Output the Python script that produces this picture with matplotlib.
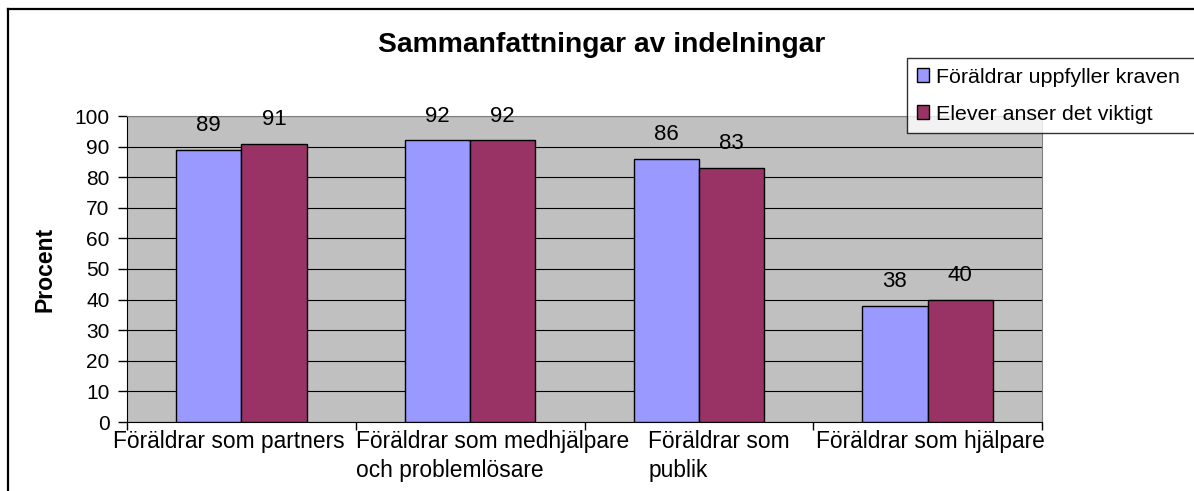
import matplotlib.pyplot as plt
import numpy as np
from matplotlib.lines import Line2D
from matplotlib.transforms import ScaledTranslation

categories = ['Föräldrar som partners', 'Föräldrar som medhjälpare\noch problemlösare',
              'Föräldrar som\npublik', 'Föräldrar som hjälpare']
series_names = ['Föräldrar uppfyller kraven', 'Elever anser det viktigt']
foraldrar = [89, 92, 86, 38]
elever = [91, 92, 83, 40]
yticks = list(range(0, 101, 10))

plt.rcParams['font.family'] = ['Liberation Sans', 'DejaVu Sans']

W, H = 1194, 491
fig = plt.figure(figsize=(W / 100, H / 100), dpi=100)
fig.patch.set_facecolor('white')

# outer chart frame: only left and top edges are inside the picture
fig.lines.append(Line2D([8 / W, 8 / W], [0, 1 - 9 / H], transform=fig.transFigure,
                        color='black', linewidth=1.6))
fig.lines.append(Line2D([8 / W, 1], [1 - 9 / H, 1 - 9 / H], transform=fig.transFigure,
                        color='black', linewidth=1.6))

ax = fig.add_axes([127 / W, 1 - 422 / H, (1042 - 127) / W, (422 - 116) / H])
ax.set_facecolor('#C0C0C0')

x = np.arange(len(categories))
bw = 1 / 3.5
colors = ['#9999FF', '#993366']
bars1 = ax.bar(x - bw / 2, foraldrar, bw, color=colors[0], edgecolor='black',
               linewidth=1, label=series_names[0], zorder=3)
bars2 = ax.bar(x + bw / 2, elever, bw, color=colors[1], edgecolor='black',
               linewidth=1, label=series_names[1], zorder=3)

for bars, vals in ((bars1, foraldrar), (bars2, elever)):
    for b, v in zip(bars, vals):
        ax.annotate(str(v), (b.get_x() + b.get_width() / 2, v),
                    xytext=(0, 10), textcoords='offset points',
                    ha='center', va='bottom', fontsize=16)

ax.set_xlim(-0.5, len(categories) - 0.5)
ax.set_ylim(0, 100)
ax.set_yticks(yticks)
ax.tick_params(axis='y', labelsize=15, length=6.5, width=1, direction='out', pad=6)
ax.yaxis.grid(True, color='black', linewidth=0.8, zorder=1)
ax.set_axisbelow(True)

ax.set_xticks(x)
ax.set_xticklabels(categories, fontsize=16.4, multialignment='left', linespacing=1.3)
ax.tick_params(axis='x', length=0, pad=6)
ax.set_xticks(np.arange(-0.5, len(categories), 1), minor=True)
ax.tick_params(axis='x', which='minor', length=6, width=1, direction='out')
shifts = [-13, 23, 20, 3]
for lab, dx in zip(ax.get_xticklabels(), shifts):
    lab.set_transform(lab.get_transform() + ScaledTranslation(dx / 100, 0, fig.dpi_scale_trans))

ax.spines['left'].set_color('black')
ax.spines['bottom'].set_color('black')
ax.spines['top'].set_color('#808080')
ax.spines['right'].set_color('#808080')

ax.set_ylabel('Procent', fontsize=16.6, fontweight='bold', labelpad=13)

fig.text(602 / W, 1 - 45 / H, 'Sammanfattningar av indelningar', ha='center',
         va='center', fontsize=20.3, fontweight='bold')

leg = fig.legend(loc='upper left', bbox_to_anchor=(907 / W, 1 - 132 / H, 1.02 - 907 / W, 74 / H),
                 mode='expand', fontsize=15.4, frameon=True, fancybox=False, edgecolor='black',
                 handlelength=0.6, handleheight=0.6, handletextpad=0.3,
                 labelspacing=0.85, borderpad=0.45, borderaxespad=0)
leg.get_frame().set_linewidth(1)

fig.savefig('out.png', dpi=100)
